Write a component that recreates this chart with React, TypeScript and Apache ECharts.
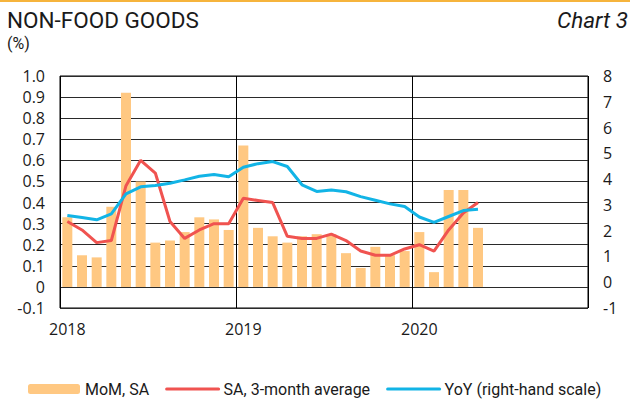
import React, { useEffect, useRef } from "react";
import * as echarts from "echarts";

const years = ["2018", "2019", "2020"];
const monthsOfYear = ["01", "02", "03", "04", "05", "06", "07", "08", "09", "10", "11", "12"];
const categories: string[] = [];
years.forEach((y) => monthsOfYear.forEach((m) => categories.push(`${y}-${m}`)));

// MoM, SA (left axis, %)
const momSA = [
  0.33, 0.15, 0.14, 0.38, 0.92, 0.5, 0.21, 0.22, 0.26, 0.33, 0.32, 0.27,
  0.67, 0.28, 0.24, 0.21, 0.24, 0.25, 0.25, 0.16, 0.09, 0.19, 0.15, 0.17,
  0.26, 0.07, 0.46, 0.46, 0.28,
];
// SA, 3-month average (left axis, %)
const sa3m = [
  0.31, 0.27, 0.21, 0.22, 0.48, 0.6, 0.54, 0.31, 0.23, 0.27, 0.3, 0.3,
  0.42, 0.41, 0.4, 0.24, 0.23, 0.23, 0.25, 0.22, 0.17, 0.15, 0.15, 0.18,
  0.2, 0.17, 0.27, 0.35, 0.4,
];
// YoY (right axis, %)
const yoy = [
  2.59, 2.51, 2.42, 2.65, 3.43, 3.7, 3.75, 3.84, 3.97, 4.11, 4.18, 4.09,
  4.46, 4.6, 4.68, 4.49, 3.78, 3.52, 3.58, 3.51, 3.32, 3.18, 3.04, 2.94,
  2.53, 2.32, 2.55, 2.78, 2.83,
];

const seriesNames = ["MoM, SA", "SA, 3-month average", "YoY (right-hand scale)"];
const titleText = "NON-FOOD GOODS";
const unitText = "(%)";
const chartLabel = "Chart 3";

export default function App() {
  const ref = useRef<HTMLDivElement>(null);
  useEffect(() => {
    document.body.style.margin = "0";
    const chart = echarts.init(ref.current!, null, { renderer: "svg" });
    const tickFont = { fontFamily: "Open Sans", fontSize: 16, color: "#1a1a1a" };
    chart.setOption({
      animation: false,
      backgroundColor: "#fff",
      graphic: [
        { type: "rect", shape: { x: 0, y: 0, width: 630, height: 2 }, style: { fill: "#F6B43C" } },
        {
          type: "text", x: 7, y: 20,
          style: { text: titleText, font: "22.5px Roboto", fill: "#1a1a1a", textVerticalAlign: "middle" },
        },
        {
          type: "text", x: 7, y: 43,
          style: { text: unitText, font: "16px Roboto", fill: "#1a1a1a", textVerticalAlign: "middle" },
        },
        {
          type: "text", x: 628, y: 20,
          style: { text: chartLabel, font: "italic 22.5px Roboto", fill: "#1a1a1a", textAlign: "right", textVerticalAlign: "middle" },
        },
      ],
      legend: {
        left: 28,
        top: 381,
        padding: 0,
        itemWidth: 52,
        itemHeight: 10,
        itemGap: 16,
        data: [
          { name: seriesNames[0] },
          { name: seriesNames[1], itemStyle: { opacity: 0 }, lineStyle: { width: 3, cap: "round" } },
          { name: seriesNames[2], itemStyle: { opacity: 0 }, lineStyle: { width: 3, cap: "round" } },
        ],
        textStyle: { fontFamily: "Roboto", fontSize: 16, color: "#1a1a1a" },
      },
      grid: {
        left: 60, right: 42, top: 76, bottom: 95,
        show: true, borderColor: "#000", borderWidth: 1, backgroundColor: "transparent",
      },
      xAxis: {
        type: "category",
        data: categories,
        boundaryGap: true,
        axisLine: { show: false },
        axisTick: { show: false },
        axisLabel: {
          ...tickFont,
          margin: 13,
          interval: (i: number) => i % 12 === 0,
          formatter: (v: string) => v.slice(0, 4),
        },
        splitLine: {
          show: true,
          interval: (i: number) => i % 12 === 0,
          lineStyle: { color: "#000", width: 1 },
        },
      },
      yAxis: [
        {
          type: "value",
          min: -0.1,
          max: 1.0,
          interval: 0.1,
          axisLine: { show: false },
          axisTick: { show: false },
          axisLabel: {
            ...tickFont,
            margin: 15,
            formatter: (v: number) => (Math.abs(v) < 1e-9 ? "0" : v.toFixed(1)),
          },
          splitLine: { show: true, lineStyle: { color: "#2a2a2a", width: 1 } },
        },
        {
          type: "value",
          min: -1,
          max: 8,
          interval: 1,
          axisLine: { show: false },
          axisTick: { show: false },
          axisLabel: { ...tickFont, margin: 15 },
          splitLine: { show: false },
        },
      ],
      series: [
        {
          name: seriesNames[0],
          type: "bar",
          data: momSA,
          barWidth: 10,
          itemStyle: { color: "#FFC882" },
          yAxisIndex: 0,
        },
        {
          name: seriesNames[1],
          type: "line",
          data: sa3m,
          symbol: "none",
          yAxisIndex: 0,
          lineStyle: { color: "#F05350", width: 3 },
          itemStyle: { color: "#F05350" },
        },
        {
          name: seriesNames[2],
          type: "line",
          data: yoy,
          symbol: "none",
          yAxisIndex: 1,
          lineStyle: { color: "#12B4E6", width: 3 },
          itemStyle: { color: "#12B4E6" },
        },
      ],
    });
    return () => chart.dispose();
  }, []);
  return <div ref={ref} style={{ width: 630, height: 403 }} />;
}
